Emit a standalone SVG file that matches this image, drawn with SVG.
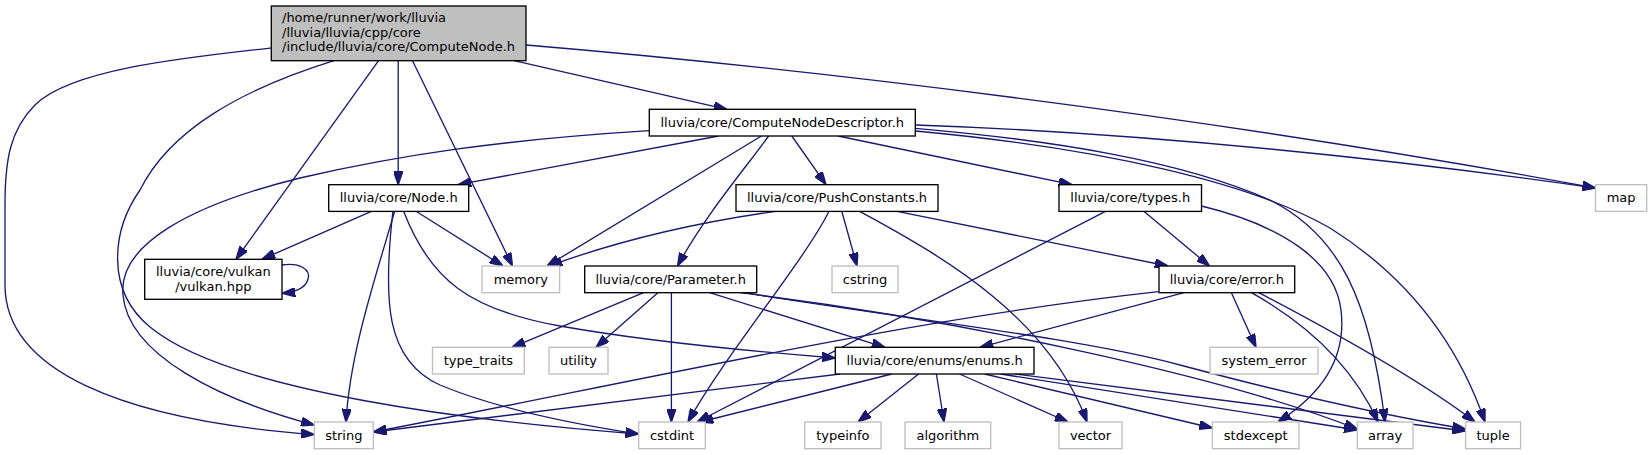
<svg xmlns="http://www.w3.org/2000/svg" width="1652" height="455" viewBox="0 0 1652 455">
<style>
.node rect{fill:#ffffff;stroke:#000000;stroke-width:1.33}
.node.ext rect{stroke:#bfbfbf}
.node.root rect{fill:#bfbfbf}
.node text{font-family:"DejaVu Sans","Liberation Sans",sans-serif;font-size:13px;fill:#000000;text-anchor:middle}
.node.root text{text-anchor:start}
#edges path{fill:none;stroke:#191970;stroke-width:1.33;marker-end:url(#arr)}
</style>
<defs>
<marker id="arr" viewBox="0 0 10 7" refX="10" refY="3.5" markerWidth="10" markerHeight="7" orient="auto" markerUnits="strokeWidth">
<path d="M0,0 L10,3.5 L0,7 Z" fill="#191970" stroke="#191970" stroke-width="1"/>
</marker>
</defs>
<rect x="0" y="0" width="1652" height="455" fill="#ffffff"/>
<g id="edges">
<path d="M271,48 C180,58 70,70 35,105 C10,130 5,160 5,205 L5,285 C5,370 120,420 314.3,434.5"/>
<path d="M334,60.7 C240,90 170,130 140,190 C112,230 105,290 150,327 C230,393 480,422 638.7,434"/>
<path d="M378.6,60.7 L236,259.3"/>
<path d="M398.2,60.7 L398.2,184.7"/>
<path d="M412.5,60.7 L512.5,266"/>
<path d="M514,60.7 L727,109.3"/>
<path d="M526,45 C800,68 1200,115 1595.5,188"/>
<path d="M718.6,136 L458,184.7"/>
<path d="M649.3,130.7 C500,140 400,155 300,178 C190,205 118,245 123,295 C128,355 220,400 314.3,425"/>
<path d="M761.4,136 L547,266"/>
<path d="M768.6,136 C748,165 705,215 677.5,266"/>
<path d="M791.8,136 L826,184.7"/>
<path d="M838.2,136 L1072,184.7"/>
<path d="M915.3,125 C1150,133 1400,160 1595.5,188"/>
<path d="M915.3,128.3 C1050,140 1180,160 1270,200 C1340,235 1370,300 1385,422"/>
<path d="M915.3,131 C1100,148 1250,182 1330,228 C1400,272 1455,335 1485,422"/>
<path d="M371.4,211.3 L262,259.3"/>
<path d="M416,211.3 L503,266"/>
<path d="M394.6,211.3 C378,270 350,350 346,422"/>
<path d="M392.9,211.3 C383,300 385,360 440,385 C500,410 580,425 638.7,434"/>
<path d="M403.6,211.3 C430,280 470,310 560,326 C650,342 760,352 835.3,358"/>
<path d="M282,265 C300,262 311,270 308,279 C306,287 298,292 282,293.3"/>
<path d="M775.7,211.3 C700,222 620,240 549,266"/>
<path d="M829,211.3 C805,260 725,355 688,422"/>
<path d="M841.8,211.3 L857,266"/>
<path d="M859.6,211.3 C950,260 1050,320 1087,422"/>
<path d="M897,211.3 L1168,266"/>
<path d="M1143.8,211.3 L1209.5,266"/>
<path d="M1105.5,211.3 L697,422"/>
<path d="M1201.5,206 C1280,225 1335,260 1341,310 C1347,360 1320,395 1278,422"/>
<path d="M643.6,292.7 L512,347.3"/>
<path d="M657.9,292.7 L596,347.3"/>
<path d="M671.4,292.7 L671.4,422"/>
<path d="M709.6,292.7 L885,347.3"/>
<path d="M740,292.7 C960,320 1220,375 1357.3,429"/>
<path d="M744,292.7 C900,318 1080,338 1180,365 C1300,397 1400,418 1465.6,429"/>
<path d="M1158.4,291.7 C900,320 620,385 373.3,432"/>
<path d="M1184,292.7 L980,347.3"/>
<path d="M1231.4,292.7 L1256,347.3"/>
<path d="M1251.5,292.7 C1300,320 1350,360 1378,422"/>
<path d="M1258.8,292.7 C1330,330 1420,380 1475,422"/>
<path d="M840,374 L373.3,432"/>
<path d="M891.8,374 L700,422"/>
<path d="M918.6,374 L858,422"/>
<path d="M936.4,374 L944,422"/>
<path d="M959.6,374 L1068,422"/>
<path d="M984.6,374 L1212.4,428"/>
<path d="M1000.7,374 L1357.3,430"/>
<path d="M1015,374 L1465.6,431"/>
</g>
<g id="n-computenode" class="node root"><rect x="271.3" y="6" width="254.7" height="54.7"/><text x="282" y="22">/home/runner/work/lluvia</text><text x="282" y="36.7">/lluvia/lluvia/cpp/core</text><text x="282" y="51.3">/include/lluvia/core/ComputeNode.h</text></g>
<g id="n-cnd" class="node"><rect x="649.3" y="109.3" width="266" height="26.7"/><text x="782.3" y="126.9">lluvia/core/ComputeNodeDescriptor.h</text></g>
<g id="n-node" class="node"><rect x="328.7" y="184.7" width="140" height="26.7"/><text x="398.7" y="202.3">lluvia/core/Node.h</text></g>
<g id="n-pushconstants" class="node"><rect x="736" y="184.7" width="202" height="26.7"/><text x="837" y="202.3">lluvia/core/PushConstants.h</text></g>
<g id="n-types" class="node"><rect x="1059" y="184.7" width="142.5" height="26.7"/><text x="1130.25" y="202.3">lluvia/core/types.h</text></g>
<g id="n-map" class="node ext"><rect x="1595.5" y="184.7" width="51.2" height="26.7"/><text x="1621.1" y="202.3">map</text></g>
<g id="n-vulkan" class="node"><rect x="144.7" y="259.3" width="137.3" height="40"/><text x="213.35" y="276">lluvia/core/vulkan</text><text x="213.35" y="290.7">/vulkan.hpp</text></g>
<g id="n-memory" class="node ext"><rect x="482" y="266" width="77.6" height="26.7"/><text x="520.8" y="283.6">memory</text></g>
<g id="n-parameter" class="node"><rect x="584.7" y="266" width="172" height="26.7"/><text x="670.7" y="283.6">lluvia/core/Parameter.h</text></g>
<g id="n-cstring" class="node ext"><rect x="832" y="266" width="66" height="26.7"/><text x="865" y="283.6">cstring</text></g>
<g id="n-error" class="node"><rect x="1159" y="266" width="135.7" height="26.7"/><text x="1226.85" y="283.6">lluvia/core/error.h</text></g>
<g id="n-type_traits" class="node ext"><rect x="432.5" y="347.3" width="91.8" height="26.7"/><text x="478.4" y="364.9">type_traits</text></g>
<g id="n-utility" class="node ext"><rect x="549" y="347.3" width="59" height="26.7"/><text x="578.5" y="364.9">utility</text></g>
<g id="n-enums" class="node"><rect x="835.3" y="347.3" width="198.7" height="26.7"/><text x="934.65" y="364.9">lluvia/core/enums/enums.h</text></g>
<g id="n-system_error" class="node ext"><rect x="1210" y="347.3" width="108" height="26.7"/><text x="1264" y="364.9">system_error</text></g>
<g id="n-string" class="node ext"><rect x="314.3" y="422" width="59" height="26.7"/><text x="343.8" y="439.6">string</text></g>
<g id="n-cstdint" class="node ext"><rect x="638.7" y="422" width="66.6" height="26.7"/><text x="672" y="439.6">cstdint</text></g>
<g id="n-typeinfo" class="node ext"><rect x="804.7" y="422" width="76.3" height="26.7"/><text x="842.85" y="439.6">typeinfo</text></g>
<g id="n-algorithm" class="node ext"><rect x="905" y="422" width="85.7" height="26.7"/><text x="947.85" y="439.6">algorithm</text></g>
<g id="n-vector" class="node ext"><rect x="1059" y="422" width="63" height="26.7"/><text x="1090.5" y="439.6">vector</text></g>
<g id="n-stdexcept" class="node ext"><rect x="1212.4" y="422" width="86.6" height="26.7"/><text x="1255.7" y="439.6">stdexcept</text></g>
<g id="n-array" class="node ext"><rect x="1357.3" y="422" width="55.7" height="26.7"/><text x="1385.15" y="439.6">array</text></g>
<g id="n-tuple" class="node ext"><rect x="1465.6" y="422" width="55" height="26.7"/><text x="1493.1" y="439.6">tuple</text></g>
</svg>
